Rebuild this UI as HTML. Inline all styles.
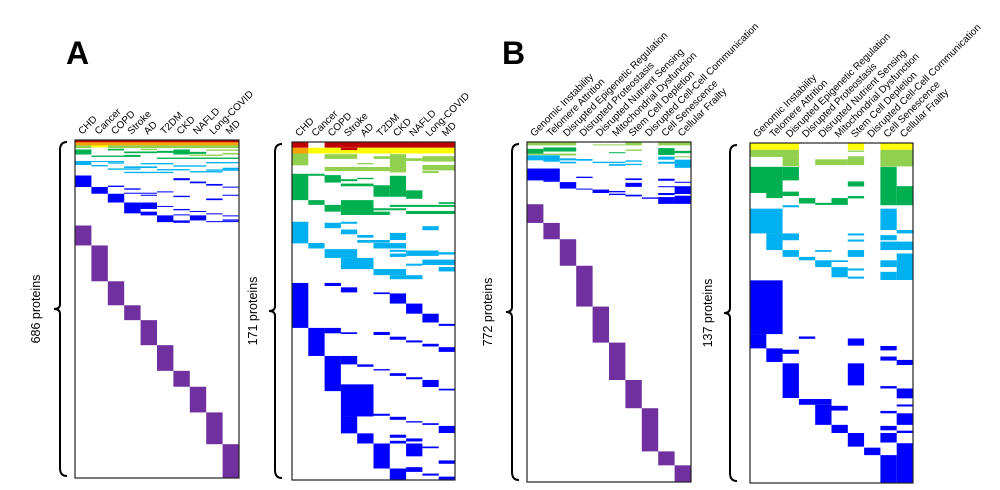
<!DOCTYPE html>
<html><head><meta charset="utf-8"><style>
html,body{margin:0;padding:0;background:#fff;}
svg{display:block;font-family:"Liberation Sans",sans-serif;}
</style></head><body>
<svg id="fig" width="1000" height="490" viewBox="0 0 1000 490">
<text x="66" y="64" font-size="32" font-weight="bold">A</text>
<text x="502" y="64" font-size="32" font-weight="bold">B</text>
</svg>
<script>
const diseases = ["CHD","Cancer","COPD","Stroke","AD","T2DM","CKD","NAFLD","Long-COVID","MD"];
const hallmarks = ["Genomic Instability","Telomere Attrition","Disrupted Epigenetic Regulation","Disrupted Proteostasis","Disrupted Nutrient Sensing","Mitochondrial Dysfunction","Stem Cell Depletion","Disrupted Cell-Cell Communication","Cell Senescence","Cellular Frailty"];
const proteinCounts = ["686 proteins","171 proteins","772 proteins","137 proteins"];
// cells: colStart,colEnd,rowStart%,rowEnd%,colour
const cellsA1 = [
"0,10,0,0.7,R","0,10,0.7,1.6,O","0,1,1.6,2.4,L","2,10,1.6,2.4,L","1,2,1.6,2.2,Y",
"0,1,2.8,4.3,G","6,7,2.8,4.3,G","2,3,2.6,3.1,G","3,5,3.4,3.9,G","5,6,3.2,3.8,G","7,8,3.5,4.1,G","8,10,2.8,3.2,L","4,5,2.6,3,L","3,4,4.4,5,G","1,3,4.6,5,G","5,10,5.2,5.6,G","7,9,4.3,4.7,L","9,10,3.8,4.3,L",
"0,1,6.2,7.4,C","1,2,7.4,7.8,C","2,3,6.6,7,C","3,5,7.8,8.3,C","4,6,6.8,7.2,C","5,7,8.6,9,C","6,8,7.5,7.9,C","8,10,6.5,6.9,C","9,10,8.2,8.7,C","2,4,8.4,8.8,C","3,6,9.4,9.8,C","7,9,9.2,9.6,C","8,10,8.7,9.1,C","1,3,6.2,6.5,C",
"0,1,10.5,13.9,B","1,2,13.9,15.9,B","2,3,15.9,18.5,B","3,4,18.5,21.7,B","4,5,18.5,20.4,B","4,5,21.2,22.3,B","5,6,22.3,24.3,B","7,8,22.3,23.8,B","6,7,23.8,24.5,B",
"2,3,13.5,13.9,B","3,4,14.3,14.7,B","5,6,15.2,15.5,B","6,7,11.3,11.9,B","7,8,12.3,12.8,B","8,9,13,13.5,B","9,10,13.8,14.1,B","4,5,16.2,16.5,B","6,7,16.5,16.9,B","8,9,17.3,17.8,B","9,10,16.2,16.5,B","5,6,19.5,19.8,B","6,7,20.4,20.8,B","7,8,21,21.3,B","8,9,21.7,22,B","9,10,22.3,22.6,B","9,10,23.5,23.9,B","6,7,22,22.3,B","8,10,24,24.3,B","3,5,15.6,15.9,B","2,3,17.3,17.6,B",
"0,1,25.3,31.2,P","1,2,31.2,41.8,P","2,3,41.8,48.9,P","3,4,48.9,53.3,P","4,5,53.3,60.7,P","5,6,60.7,68.3,P","6,7,68.3,73,P","7,8,73,80.6,P","8,9,80.6,90,P","9,10,90,100,P"];
const cellsA2 = [
"0,1,0,1.7,R","2,10,0,1.7,R","0,1,1.7,3.4,O","1,10,1.7,3.4,Y","3,4,1.7,2.4,R",
"0,1,3.4,6.9,L","2,4,3.6,5,L","5,6,4.2,5,L","6,7,3.6,9,L","7,8,4.8,5.6,L","8,10,4.2,5.8,L","8,10,6.8,8.4,L","2,6,7.4,8.6,L","4,5,6.2,6.6,L","8,9,8.6,9.2,L",
"0,1,9.4,17.2,G","1,2,17.2,18.6,G","2,3,9.8,12,G","2,3,18.6,20.6,G","3,4,11,11.6,G","3,5,12.3,13.1,G","3,5,17.2,21.6,G","5,6,12.8,16.2,G","6,7,10,16.2,G","7,8,14.3,16.8,G","4,5,10.6,11,G","5,7,19.6,20.2,G","6,8,18.6,19.2,G","7,10,20.4,21.3,G","8,10,18.6,19.2,G","9,10,17.8,18.3,G","4,6,20.6,21.6,G","1,2,9.4,10,G",
"0,1,23.6,30,C","1,2,29.9,31.5,C","2,3,23.9,25.5,C","2,4,31.7,34.3,C","3,4,25.9,27.3,C","3,5,34.3,37.6,C","4,5,27.5,28.3,C","4,6,29,29.8,C","5,7,29.9,31.5,C","6,7,26.9,29,C","5,7,37.6,39.4,C","6,8,39.4,40.6,C","7,9,32.1,33.7,C","8,9,24.9,26.1,C","6,7,31.9,32.5,C","6,7,33,34,C","8,10,34.8,36.4,C","9,10,32.6,33.3,C","9,10,37,38.3,C","7,8,36,36.6,C","3,4,23.6,24.2,C",
"0,1,41.7,55,B","2,3,41.7,42.6,B","3,4,43,44.5,B","5,6,44.5,45,B","6,7,44.8,47.8,B","7,8,47.8,50.8,B","8,9,50.8,53.4,B","9,10,53.8,54.4,B",
"1,2,55,63.3,B","2,3,55,56.6,B","3,4,56.3,56.8,B","5,6,56.2,57.1,B","6,7,57.6,58.5,B","7,8,58.7,59.3,B","8,9,59.7,60.5,B","9,10,60.7,62.1,B",
"2,3,63.3,73.7,B","3,4,63.3,65.8,B","4,5,65.8,66.5,B","5,6,67.2,67.6,B","6,7,68.4,69.2,B","7,8,69.6,70.2,B","8,9,70.4,72.5,B","9,10,73,73.5,B",
"3,5,71.7,81.2,B","3,4,81.2,86.2,B","5,6,80.4,81,B","6,7,81.3,82.2,B","7,8,82.6,83,B","8,9,83.2,83.7,B","9,10,84,86.1,B",
"4,5,86.2,89.2,B","5,6,89.2,96.6,B","6,7,86.6,87.5,B","6,7,88.4,89.2,B","7,8,87.7,88.6,B","7,8,89.2,93,B","8,9,90.1,90.6,B","9,10,94.2,95.2,B","6,7,96.6,100,B","7,8,96.2,97.6,B","8,9,98.1,98.7,B","9,10,99,100,B"];
const cellsB1 = [
"0,3,0,1,L","4,6,0.7,1,L","6,7,0,1,L","8,10,0,1,L",
"0,1,2,3.4,G","1,3,1.6,2.8,G","8,9,1.8,3.8,G","9,10,2.6,3.3,G","5,6,3,3.3,G","6,7,2.2,2.6,L","2,3,3.5,4,L","9,10,4.2,4.5,L","0,3,3.4,3.8,L",
"0,1,3.9,5.4,C","1,2,3.9,5.8,C","2,3,4.8,5.4,C","2,3,5.8,6.3,C","4,6,5.8,6.2,C","5,6,6.5,7,C","6,7,5.4,5.8,C","6,7,6.4,6.8,C","8,9,4.3,5.2,C","8,9,5.8,6.4,C","9,10,5.2,7.6,C","3,4,5,5.5,C",
"0,2,7.8,11.3,B","1,2,11.3,11.7,B","2,3,11.8,12.2,B","2,3,12,13.7,B","3,4,10.2,10.6,B","3,4,13.7,14,B","4,5,14,15,B","5,6,14.4,14.8,B","5,6,15.2,15.6,B","6,7,10.7,11.2,B","6,7,12,13.2,B","6,7,15.5,16,B","7,8,16.3,16.7,B","8,9,10.8,11.4,B","8,9,13,13.3,B","8,9,15,15.6,B","8,9,16.2,18.2,B","9,10,11.7,12,B","9,10,13,15.3,B","9,10,15.8,18.2,B",
"0,1,18.3,23.8,P","1,2,23.8,28.6,P","2,3,28.6,36.4,P","3,4,36.4,48.4,P","4,5,48.4,59,P","5,6,59,70,P","6,7,70,78.3,P","7,8,78.3,91,P","8,9,91,95.1,P","9,10,95.1,100,P"];
const cellsB2 = [
"0,3,0,2,Y","6,7,0,2,Y","8,10,0,2,Y",
"0,3,2,4.1,L","6,7,2.2,2.6,L","2,3,4.1,6.8,L","4,6,4.8,6.5,L","6,7,3.9,6.5,L","8,10,2,6.9,L",
"0,2,7,14.7,G","2,3,7,11,G","1,2,14.7,16.2,G","2,3,14.3,15.6,G","3,4,16.2,17.8,G","4,5,17.6,18.2,G","5,6,16.2,18.2,G","6,7,11.3,12.8,G","6,7,15.6,16.3,G","8,9,7,18.3,G","9,10,12.7,18.3,G",
"0,2,19.3,26.6,C","2,3,18.3,18.9,C","1,2,26.6,31.5,C","2,3,26.6,28.6,C","2,3,31.5,33.5,C","3,4,33.5,34.5,C","4,5,31.5,32,C","4,5,34.5,36.5,C","5,6,34.5,35,C","5,6,36.5,39.5,C","6,7,26.6,27.2,C","6,7,28.4,29,C","6,7,31.5,33.5,C","6,7,36.9,37.5,C","6,7,39.3,39.9,C","8,9,19.3,25.6,C","9,10,25.6,26.6,C","8,9,27.1,28.6,C","8,10,29,31.5,C","9,10,32.5,40.3,C","8,9,34.5,36.5,C","8,9,37.9,40.3,C",
"0,2,40.4,56.2,B","0,1,56.2,60.4,B","1,2,60.4,64.4,B","2,3,60.8,62,B","3,4,56.9,57.6,B","6,7,57.5,59.6,B","8,9,59.7,61,B","8,9,62.8,64,B","9,10,63.8,65.3,B",
"2,3,64.8,75,B","6,7,64.8,71.3,B","8,9,71.5,72.2,B","9,10,72.2,75.1,B","3,5,75.3,77,B","4,5,77,82.9,B","5,6,77.3,78.7,B","8,9,78.8,79.5,B","9,10,76.9,77.5,B","9,10,79.5,82.9,B","5,6,82.9,85.3,B","8,9,83.2,84.5,B","9,10,84.6,85.3,B","6,7,85.3,89.3,B","8,9,85.3,88.1,B","7,8,89.6,91.8,B","9,10,88.3,100,B","8,9,91.8,100,B"];
const colours = {R:"#c00000",O:"#f7a400",Y:"#ffff00",L:"#92d050",G:"#00b050",C:"#00b0f0",B:"#0000ff",P:"#7030a0"};
const panels = [
 {name:"panel-a-diseases-all",x:75,y:140,w:164,h:338,labels:diseases,cells:cellsA1,count:proteinCounts[0],bx:57,tx:40},
 {name:"panel-a-diseases-shared",x:292,y:142,w:163,h:338,labels:diseases,cells:cellsA2,count:proteinCounts[1],bx:272,tx:257},
 {name:"panel-b-hallmarks-all",x:527,y:142,w:164,h:340,labels:hallmarks,cells:cellsB1,count:proteinCounts[2],bx:509,tx:492},
 {name:"panel-b-hallmarks-shared",x:750,y:143,w:163,h:340,labels:hallmarks,cells:cellsB2,count:proteinCounts[3],bx:727,tx:712}
];
const NS="http://www.w3.org/2000/svg", svg=document.getElementById("fig");
function mk(t,a,p){const e=document.createElementNS(NS,t);for(const k in a)e.setAttribute(k,a[k]);(p||svg).appendChild(e);return e;}
panels.forEach(p=>{
 const g=mk("g",{});
 
 
 const cw=p.w/10;
 const xs=c=>p.x+c*cw, ys=v=>p.y+v/100*p.h;
 p.cells.forEach(s=>{
  const [c0,c1,r0,r1,k]=s.split(",");
  const r=mk("rect",{x:xs(+c0),y:ys(+r0),width:xs(+c1)-xs(+c0),height:Math.max(0.8,ys(+r1)-ys(+r0)),fill:colours[k]},g);
  
  
 });
 const f=mk("rect",{x:p.x,y:p.y,width:p.w,height:p.h,fill:"none",stroke:"#222","stroke-width":1.2},g);
 
 
 p.labels.forEach((l,i)=>{
  const cx=xs(i)+cw/2-1, cy=p.y-5;
  const t=mk("text",{x:cx,y:cy,"font-size":10,transform:`rotate(-45 ${cx} ${cy})`},g);
  t.textContent=l;
  
  
 });
 const mid=p.y+p.h/2, b=p.bx, t0=p.y+2, t1=p.y+p.h-2;
 const br=mk("path",{d:`M${b+10} ${t0} Q${b+3} ${t0} ${b+3} ${t0+8} L${b+3} ${mid-5} Q${b+3} ${mid} ${b-3} ${mid} Q${b+3} ${mid} ${b+3} ${mid+5} L${b+3} ${t1-8} Q${b+3} ${t1} ${b+10} ${t1}`,fill:"none",stroke:"#000","stroke-width":2},g);
 
 
 const ct=mk("text",{x:p.tx,y:mid,"font-size":12.5,"text-anchor":"middle",transform:`rotate(-90 ${p.tx} ${mid})`},g);
 ct.textContent=p.count;
 
 
});
</script>
</body></html>
